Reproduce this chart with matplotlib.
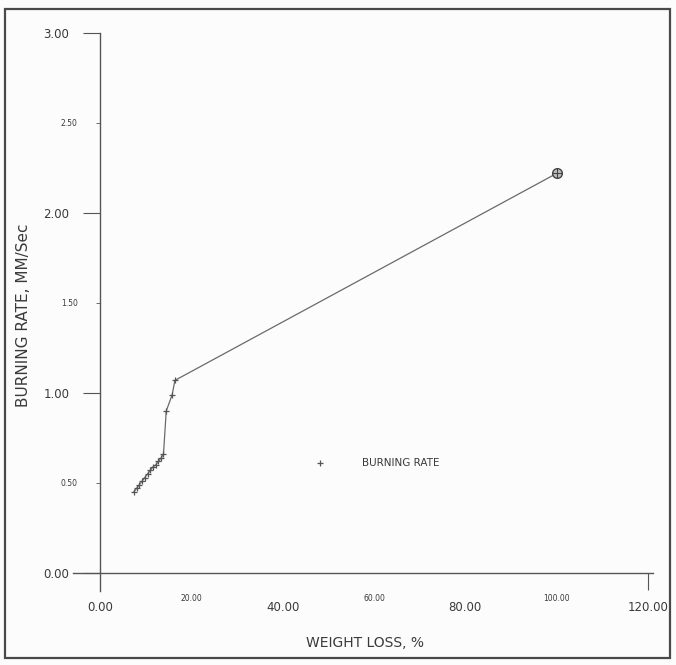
import matplotlib
matplotlib.use('Agg')
import matplotlib.pyplot as plt
from matplotlib.patches import Rectangle

# data (weight loss %, burning rate mm/s)
weight_loss = [7.4, 8.0, 8.6, 9.2, 9.8, 10.4, 11.0, 11.6, 12.2, 12.8, 13.4, 13.9, 14.5, 15.8, 16.4, 100.0]
burn_rate   = [0.45, 0.47, 0.49, 0.51, 0.53, 0.55, 0.57, 0.59, 0.60, 0.62, 0.64, 0.66, 0.90, 0.99, 1.07, 2.22]
x_major = [0, 40, 80, 120]; x_minor = [20, 60, 100]
y_major = [0, 1, 2, 3];     y_minor = [0.5, 1.5, 2.5]

INK = '#3a3a3a'
fig = plt.figure(figsize=(6.76, 6.65), dpi=100, facecolor='#fcfcfc')
ax = fig.add_axes([0.1074, 0.1113, 0.858, 0.8391])
ax.set_facecolor('none')
ax.set_xlim(-6, 121); ax.set_ylim(-0.1, 3.0)
for s in ('top', 'right'): ax.spines[s].set_visible(False)
for s in ('left', 'bottom'):
    ax.spines[s].set_position(('data', 0)); ax.spines[s].set_color('#555555'); ax.spines[s].set_linewidth(1.0)

ax.plot(weight_loss, burn_rate, color='#6a6a6a', lw=0.9, marker='+', ms=5, mew=0.9, mec='#555555', label='BURNING RATE')
ax.plot(weight_loss[-1], burn_rate[-1], marker='o', ms=7, mfc='#bdbdbd', mec='#444444', mew=1.0, ls='none')
ax.plot(weight_loss[-1], burn_rate[-1], marker='+', ms=7, mec='#444444', mew=0.8, ls='none')

ax.set_xticks(x_major, [f'{v:.2f}' for v in x_major])
ax.set_xticks(x_minor, [f'{v:.2f}' for v in x_minor], minor=True)
ax.set_yticks(y_major, [f'{v:.2f}' for v in y_major])
ax.set_yticks(y_minor, [f'{v:.2f}' for v in y_minor], minor=True)
ax.tick_params(axis='x', which='major', length=0, pad=20, labelsize=8.5, colors=INK)
ax.tick_params(axis='x', which='minor', length=0, pad=15, labelsize=5.5, colors=INK)
ax.tick_params(axis='y', which='major', length=12, width=0.8, pad=10, labelsize=8.5, colors=INK)
ax.tick_params(axis='y', which='minor', length=3, width=0.6, pad=13, labelsize=5.5, colors=INK)
ax.tick_params(axis='both', which='both', colors='#555555', labelcolor=INK)
t = ax.xaxis.get_major_ticks()[-1]; t.tick1line.set_markersize(12)  # only the 120 tick is drawn

ax.set_xlabel('WEIGHT LOSS, %', fontsize=10, color=INK)
ax.xaxis.label.set_va('center'); ax.xaxis.set_label_coords(0.504, -0.093)
ax.set_ylabel('BURNING RATE, MM/Sec', fontsize=11, color=INK)
ax.yaxis.label.set_va('center'); ax.yaxis.set_label_coords(-0.0855, 0.495)

ax.legend(loc='center left', bbox_to_anchor=(0.408, 0.229), frameon=False, fontsize=7.5,
          handlelength=1.0, handletextpad=3.6, borderpad=0, labelcolor=INK)
for ln in ax.get_legend().get_lines(): ln.set_linestyle('none')

fig.patches.append(Rectangle((5/676, 1-658/665), 665/676, (658-9)/665, transform=fig.transFigure,
                             fill=False, ec='#4a4a4a', lw=1.6))
fig.savefig('out.png', dpi=100, facecolor=fig.get_facecolor())
